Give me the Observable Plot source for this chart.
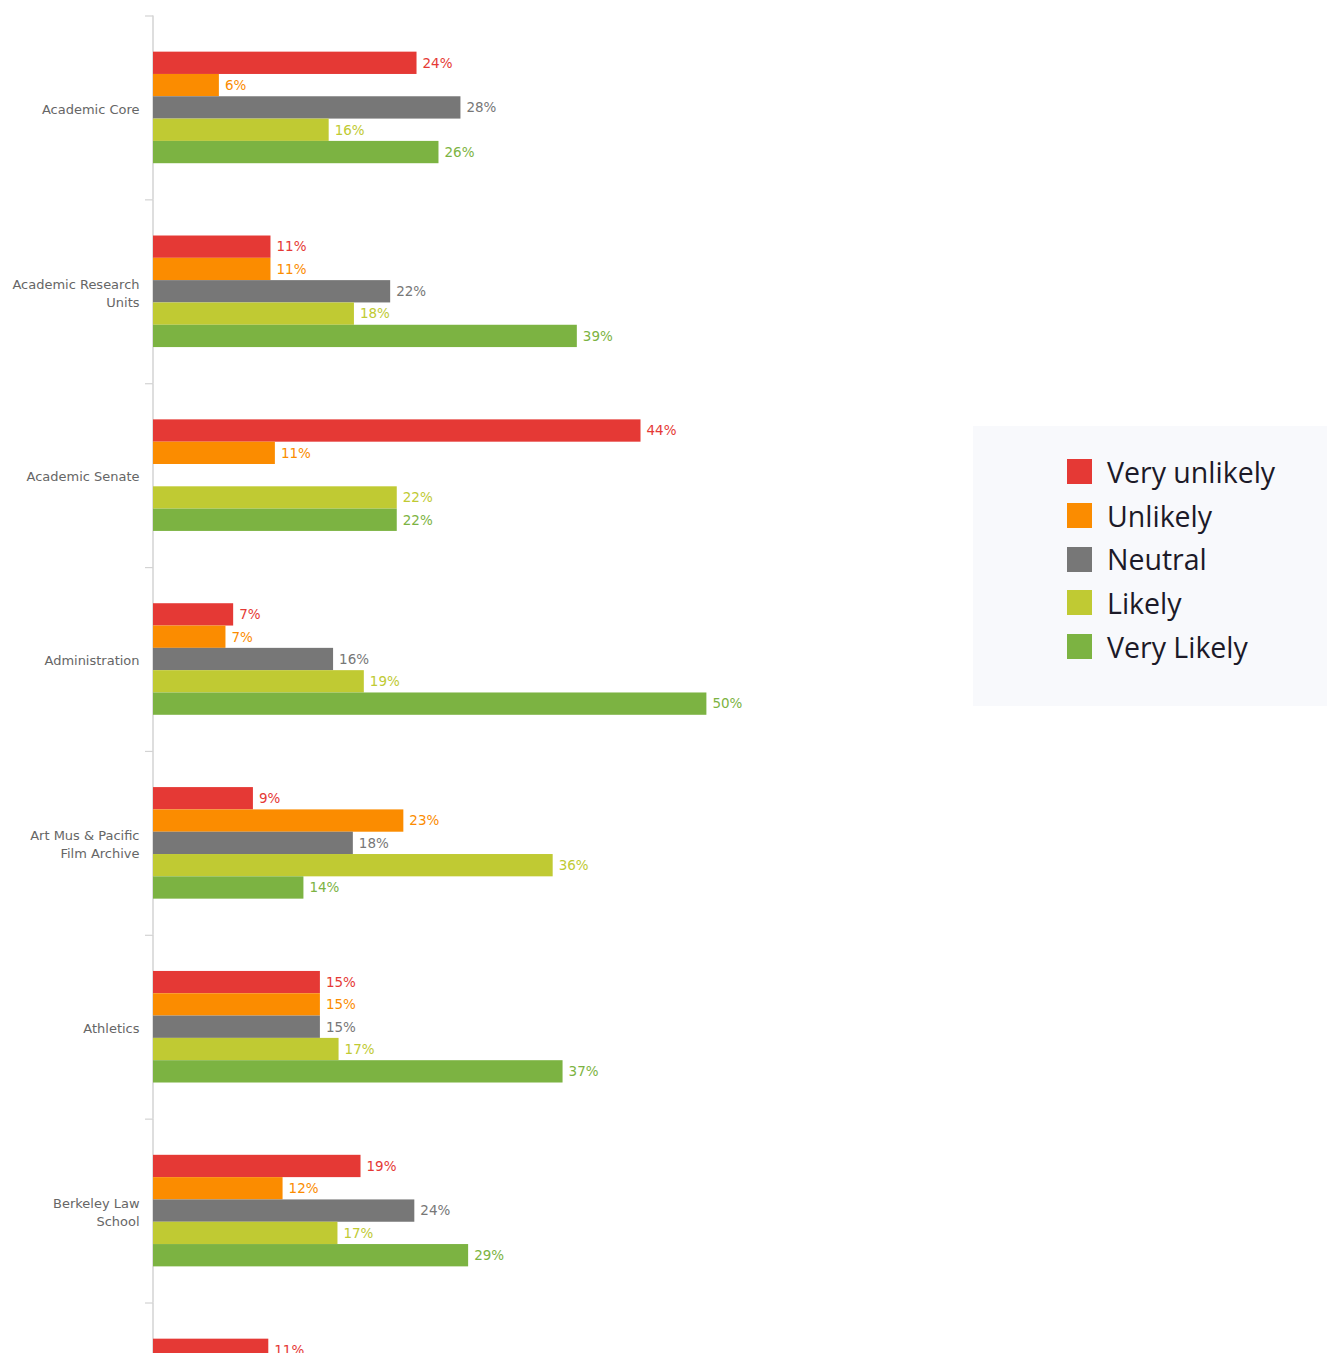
<!DOCTYPE html>
<html>
<head>
<meta charset="utf-8">
<script src="https://cdn.jsdelivr.net/npm/d3@7"></script>
<script src="https://cdn.jsdelivr.net/npm/@observablehq/plot@0.6"></script>
<style>
  html, body { margin: 0; padding: 0; background: #ffffff; }
  #wrap { position: relative; width: 1327px; height: 1353px; overflow: hidden; }
  #legend {
    position: absolute; left: 973px; top: 426px; width: 354px; height: 280px;
    background: #f8f9fc; box-sizing: border-box; padding: 24px 0 0 94px;
    font-family: "Open Sans", sans-serif; font-size: 28.5px; color: #1c1a28;
  }
  .lg-row { display: flex; align-items: center; height: 43.7px; }
  .lg-sw { width: 25px; height: 25px; margin-right: 15px; flex: none; }
</style>
</head>
<body>
<div id="wrap"><div id="chart"></div><div id="legend"></div></div>
<script>
const categories = [
  "Academic Core",
  "Academic Research Units",
  "Academic Senate",
  "Administration",
  "Art Mus & Pacific Film Archive",
  "Athletics",
  "Berkeley Law School",
  "Business Operations"
];
const categoryLabels = [
  "Academic Core",
  "Academic Research\nUnits",
  "Academic Senate",
  "Administration",
  "Art Mus & Pacific\nFilm Archive",
  "Athletics",
  "Berkeley Law\nSchool",
  "Business\nOperations"
];
const series = ["Very unlikely", "Unlikely", "Neutral", "Likely", "Very Likely"];
const colors = ["#e53935", "#fb8c00", "#777777", "#c0ca33", "#7cb342"];

// percentages per category (null = no bar / not visible)
const veryUnlikely = [24.0, 10.7, 44.4, 7.3, 9.1, 15.2, 18.9, 10.5];
const unlikely     = [6.0, 10.7, 11.1, 6.6, 22.8, 15.2, 11.8, null];
const neutral      = [28.0, 21.6, null, 16.4, 18.2, 15.2, 23.8, null];
const likely       = [16.0, 18.3, 22.2, 19.2, 36.4, 16.9, 16.8, null];
const veryLikely   = [26.0, 38.6, 22.2, 50.4, 13.7, 37.3, 28.7, null];

const seriesValues = [veryUnlikely, unlikely, neutral, likely, veryLikely];
const rows = [];
categories.forEach((c, i) => {
  series.forEach((s, j) => {
    const v = seriesValues[j][i];
    if (v != null) rows.push({category: c, series: s, value: v});
  });
});
const labelOf = new Map(categories.map((c, i) => [c, categoryLabels[i]]));

const marginTop = 15.5;
const bandH = 183.86;
const height = marginTop + bandH * categories.length;

const chart = Plot.plot({
  width: 1327,
  height,
  marginTop,
  marginBottom: 0,
  marginLeft: 153,
  marginRight: 76,
  x: {domain: [0, 100], axis: null},
  y: {domain: series, axis: null, paddingInner: 0, paddingOuter: 1.62, round: false},
  fy: {domain: categories, padding: 0, label: null, round: false},
  color: {domain: series, range: colors},
  style: {fontFamily: "DejaVu Sans, Verdana, sans-serif", fontSize: "13px", background: "transparent"},
  marks: [
    Plot.ruleX([0], {stroke: "#d3d3d3", strokeWidth: 1.5, dx: -0.5}),
    Plot.barX(rows, {fy: "category", y: "series", x: "value", fill: "series"}),
    Plot.text(rows, {
      fy: "category", y: "series", x: "value",
      text: d => Math.round(d.value) + "%",
      fill: "series", textAnchor: "start", dx: 5.5, fontSize: 13.5
    }),
    Plot.axisFy({
      anchor: "left", tickSize: 0, tickPadding: 14, fill: "#666666",
      lineHeight: 1.385, tickFormat: d => labelOf.get(d), label: null
    }),
    Plot.axisFy({
      anchor: "left", tickSize: 8, text: null, stroke: "#d3d3d3", strokeWidth: 1.2,
      dy: -bandH / 2, label: null, tickFormat: () => ""
    })
  ]
});
document.getElementById("chart").appendChild(chart);

const legend = document.getElementById("legend");
series.forEach((s, i) => {
  const row = document.createElement("div");
  row.className = "lg-row";
  const sw = document.createElement("span");
  sw.className = "lg-sw";
  sw.style.background = colors[i];
  const t = document.createElement("span");
  t.textContent = s;
  row.appendChild(sw);
  row.appendChild(t);
  legend.appendChild(row);
});
</script>
</body>
</html>
